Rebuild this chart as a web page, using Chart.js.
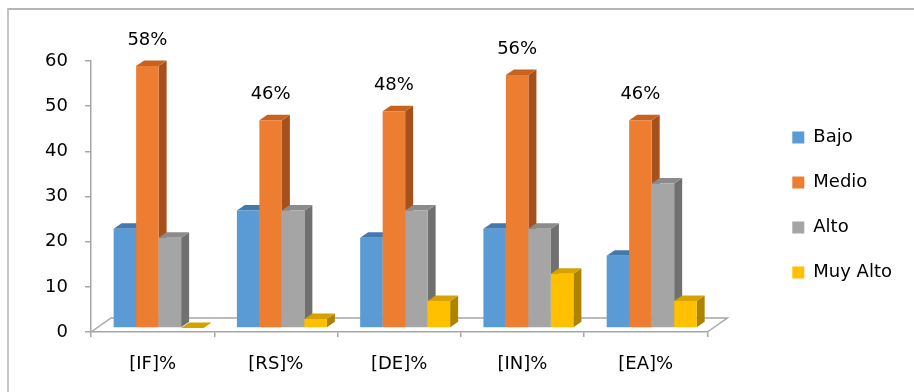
<!DOCTYPE html>
<html>
<head>
<meta charset="utf-8">
<script src="https://cdn.jsdelivr.net/npm/chart.js@4/dist/chart.umd.min.js"></script>
<style>
  html, body { margin: 0; padding: 0; background: #fff; overflow: hidden; }
  #wrap { position: relative; width: 914px; height: 392px; }
  #frame {
    position: absolute; left: 7px; top: 8px; width: 1000px; height: 1000px;
    border-left: 2px solid #c4c4c4; border-top: 2px solid #b4b4b4;
  }
  #myChart { position: absolute; left: 0; top: 0; }
</style>
</head>
<body>
<div id="wrap">
  <div id="frame"></div>
  <canvas id="myChart" width="914" height="392"></canvas>
</div>
<script>
const categories = ['[IF]%', '[RS]%', '[DE]%', '[IN]%', '[EA]%'];
const seriesNames = ['Bajo', 'Medio', 'Alto', 'Muy Alto'];
const bajo = [22, 26, 20, 22, 16];
const medio = [58, 46, 48, 56, 46];
const alto = [20, 26, 26, 22, 32];
const muyAlto = [0, 2, 6, 12, 6];

const frontColors = ['#5b9bd5', '#ed7d31', '#a5a5a5', '#ffc000'];
const topColors = ['#4479ae', '#c8621f', '#8b8b8b', '#d6a200'];
const sideColors = ['#3a6897', '#a6511b', '#707070', '#ad8300'];

const axisColor = '#a6a6a6';
const fontFamily = '"DejaVu Sans", sans-serif';

// 3D look: bars sit a little inside the floor and get a top + right face
const barShift = { x: 6, y: -4 };
const barDepth = { x: 8, y: -5.5 };
const floorDepth = { x: 20, y: -14 };

const bars3d = {
  id: 'bars3d',
  beforeDatasetsDraw(chart) {
    const ctx = chart.ctx;
    const area = chart.chartArea;

    ctx.save();
    ctx.strokeStyle = axisColor;
    ctx.lineWidth = 1.5;
    ctx.beginPath();
    ctx.moveTo(area.left, area.bottom);
    ctx.lineTo(area.left + floorDepth.x, area.bottom + floorDepth.y);
    ctx.lineTo(area.right + floorDepth.x, area.bottom + floorDepth.y);
    ctx.lineTo(area.right, area.bottom);
    ctx.stroke();

    ctx.translate(barShift.x, barShift.y);
    const metas = chart.data.datasets.map((d, i) => chart.getDatasetMeta(i));
    categories.forEach((c, j) => {
      metas.forEach((meta, i) => {
        const bar = meta.data[j];
        const { x, y, base, width } = bar.getProps(['x', 'y', 'base', 'width'], true);
        const l = x - width / 2;
        const r = x + width / 2;

        ctx.fillStyle = sideColors[i];
        ctx.beginPath();
        ctx.moveTo(r, base);
        ctx.lineTo(r + barDepth.x, base + barDepth.y);
        ctx.lineTo(r + barDepth.x, y + barDepth.y);
        ctx.lineTo(r, y);
        ctx.closePath();
        ctx.fill();

        ctx.fillStyle = topColors[i];
        ctx.beginPath();
        ctx.moveTo(l, y);
        ctx.lineTo(l + barDepth.x, y + barDepth.y);
        ctx.lineTo(r + barDepth.x, y + barDepth.y);
        ctx.lineTo(r, y);
        ctx.closePath();
        ctx.fill();

        bar.draw(ctx);
      });
    });
    ctx.restore();
    return false;
  },
  afterDraw(chart) {
    // percentage labels over the "Medio" bars
    const ctx = chart.ctx;
    const meta = chart.getDatasetMeta(1);
    ctx.save();
    ctx.font = '18px ' + fontFamily;
    ctx.fillStyle = '#000';
    ctx.textAlign = 'center';
    ctx.textBaseline = 'middle';
    meta.data.forEach((bar, j) => {
      ctx.fillText(medio[j] + '%', bar.x + barShift.x, bar.y + barShift.y - 26);
    });
    ctx.restore();
  }
};

const ctx = document.getElementById('myChart').getContext('2d');

new Chart(ctx, {
  type: 'bar',
  data: {
    labels: categories,
    datasets: [bajo, medio, alto, muyAlto].map((values, i) => ({
      label: seriesNames[i],
      data: values,
      backgroundColor: frontColors[i],
      borderWidth: 0,
      categoryPercentage: 0.73,
      barPercentage: 1
    }))
  },
  options: {
    responsive: false,
    animation: false,
    events: [],
    layout: { padding: { top: 61, right: 12, bottom: 0, left: 0 } },
    scales: {
      x: {
        afterFit(scale) { scale.height = 60; },
        grid: { drawOnChartArea: false, tickLength: 5, color: axisColor, lineWidth: 1.5 },
        border: { color: axisColor, width: 1.5 },
        ticks: { padding: 17, color: '#000', font: { family: fontFamily, size: 18 } }
      },
      y: {
        min: 0,
        max: 60,
        afterFit(scale) { scale.width = 91; },
        grid: { drawOnChartArea: false, tickLength: 6, color: axisColor, lineWidth: 1.5 },
        border: { color: axisColor, width: 1.5 },
        ticks: { stepSize: 10, padding: 17, color: '#000', font: { family: fontFamily, size: 18 } }
      },
      gap: {
        position: 'right',
        afterFit(scale) { scale.width = 58; },
        grid: { display: false },
        border: { display: false },
        ticks: { display: false }
      }
    },
    plugins: {
      tooltip: { enabled: false },
      legend: {
        position: 'right',
        fullSize: false,
        title: { display: true, text: '', padding: 0, font: { size: 14 } },
        labels: {
          boxWidth: 12,
          boxHeight: 12,
          padding: 27,
          color: '#000',
          font: { family: fontFamily, size: 18 }
        }
      }
    }
  },
  plugins: [bars3d]
});
</script>
</body>
</html>
